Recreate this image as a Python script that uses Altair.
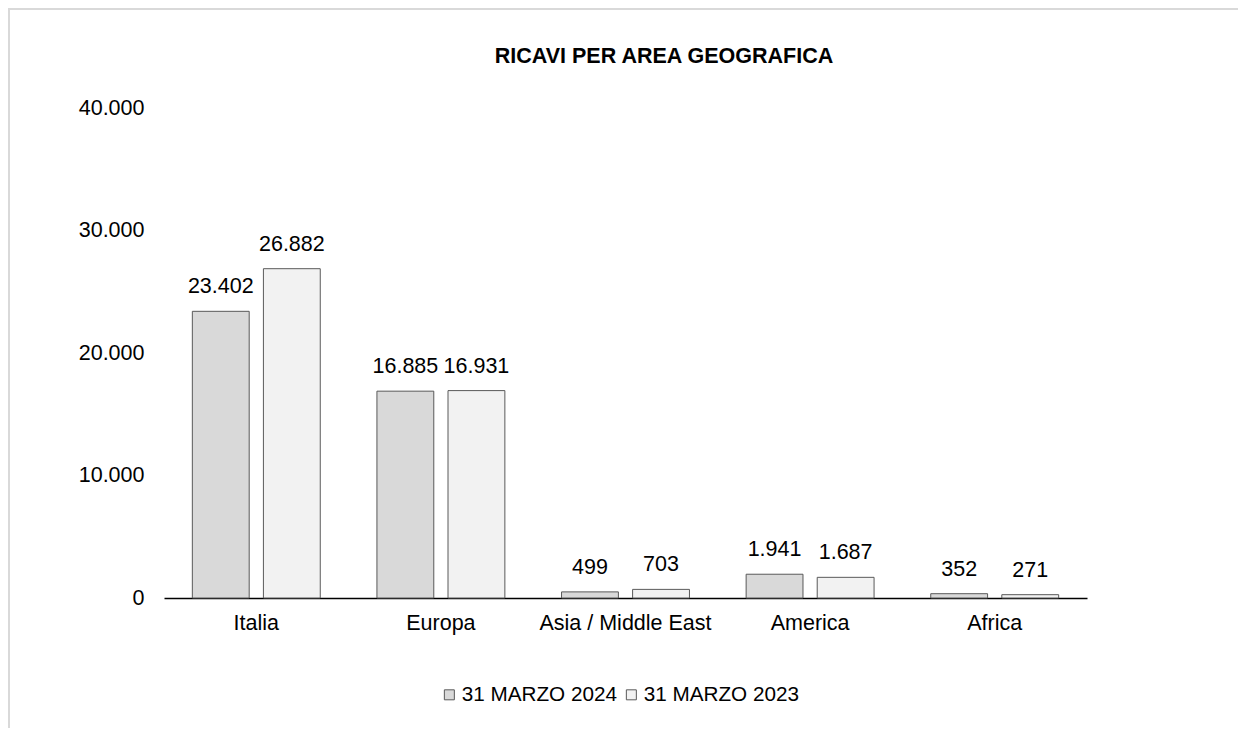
import altair as alt
import pandas as pd

title_text = "RICAVI PER AREA GEOGRAFICA"
categories = ["Italia", "Europa", "Asia / Middle East", "America", "Africa"]
series_names = ["31 MARZO 2024", "31 MARZO 2023"]
values_2024 = [23402, 16885, 499, 1941, 352]
values_2023 = [26882, 16931, 703, 1687, 271]
y_ticks = [0, 10000, 20000, 30000, 40000]
colors = ["#d9d9d9", "#f2f2f2"]

rows = []
for c, a, b in zip(categories, values_2024, values_2023):
    for s, v in zip(series_names, (a, b)):
        rows.append({"area": c, "serie": s, "valore": v,
                     "etichetta": f"{v:,}".replace(",", ".")})
df = pd.DataFrame(rows)

FONT = "Liberation Sans"
FS = 21.5

base = alt.Chart(df).encode(
    x=alt.X("area:N", sort=categories, title=None,
            scale=alt.Scale(paddingInner=0.307, paddingOuter=0.1535),
            axis=alt.Axis(labelAngle=0, ticks=False, domainColor="#000000",
                          domainWidth=1.5, labelPadding=14, labelFontSize=FS,
                          labelColor="#000000", labelFont=FONT)),
    xOffset=alt.XOffset("serie:N", sort=series_names,
                        scale=alt.Scale(paddingInner=0.2, paddingOuter=0)),
    y=alt.Y("valore:Q", title=None,
            scale=alt.Scale(domain=[0, 40000], nice=False),
            axis=alt.Axis(values=y_ticks, domain=False, ticks=False, grid=False,
                          labelPadding=20, labelFontSize=FS, labelColor="#000000",
                          labelFont=FONT,
                          labelExpr="replace(format(datum.value, ','), ',', '.')")),
)

bars = base.mark_bar(stroke="#595959", strokeWidth=1).encode(
    color=alt.Color("serie:N", sort=series_names,
                    scale=alt.Scale(domain=series_names, range=colors),
                    legend=alt.Legend(title=None, orient="none", direction="horizontal",
                                      legendX=275, legendY=576,
                                      symbolType="square", symbolSize=100,
                                      symbolStrokeColor="#595959", symbolStrokeWidth=1,
                                      labelFontSize=20.7, labelFont=FONT, labelLimit=400,
                                      labelColor="#000000", labelOffset=2,
                                      columnPadding=4)),
)

labels = base.mark_text(baseline="alphabetic", dy=-18, fontSize=FS, font=FONT,
                        color="#000000").encode(text="etichetta:N")

title = alt.Chart(alt.Data(values=[{"t": title_text}])).mark_text(
    fontSize=21.5, font=FONT, fontWeight="bold", color="#000000",
    align="center", baseline="alphabetic"
).encode(text="t:N", x=alt.value(500), y=alt.value(-45))

border = alt.Chart(alt.Data(values=[{}])).mark_rect(
    fill="transparent", stroke="#d9d9d9", strokeWidth=2
).encode(x=alt.value(-155), x2=alt.value(1100), y=alt.value(-99), y2=alt.value(650))

chart = alt.layer(border, title, bars, labels).properties(
    width=923, height=490,
    autosize=alt.AutoSizeParams(type="none"),
    padding={"left": 156, "top": 100, "right": 151, "bottom": 130},
    background="white",
).configure_view(stroke="transparent", strokeWidth=0)

chart.save("out.html", embed_options={"renderer": "svg", "actions": False})
